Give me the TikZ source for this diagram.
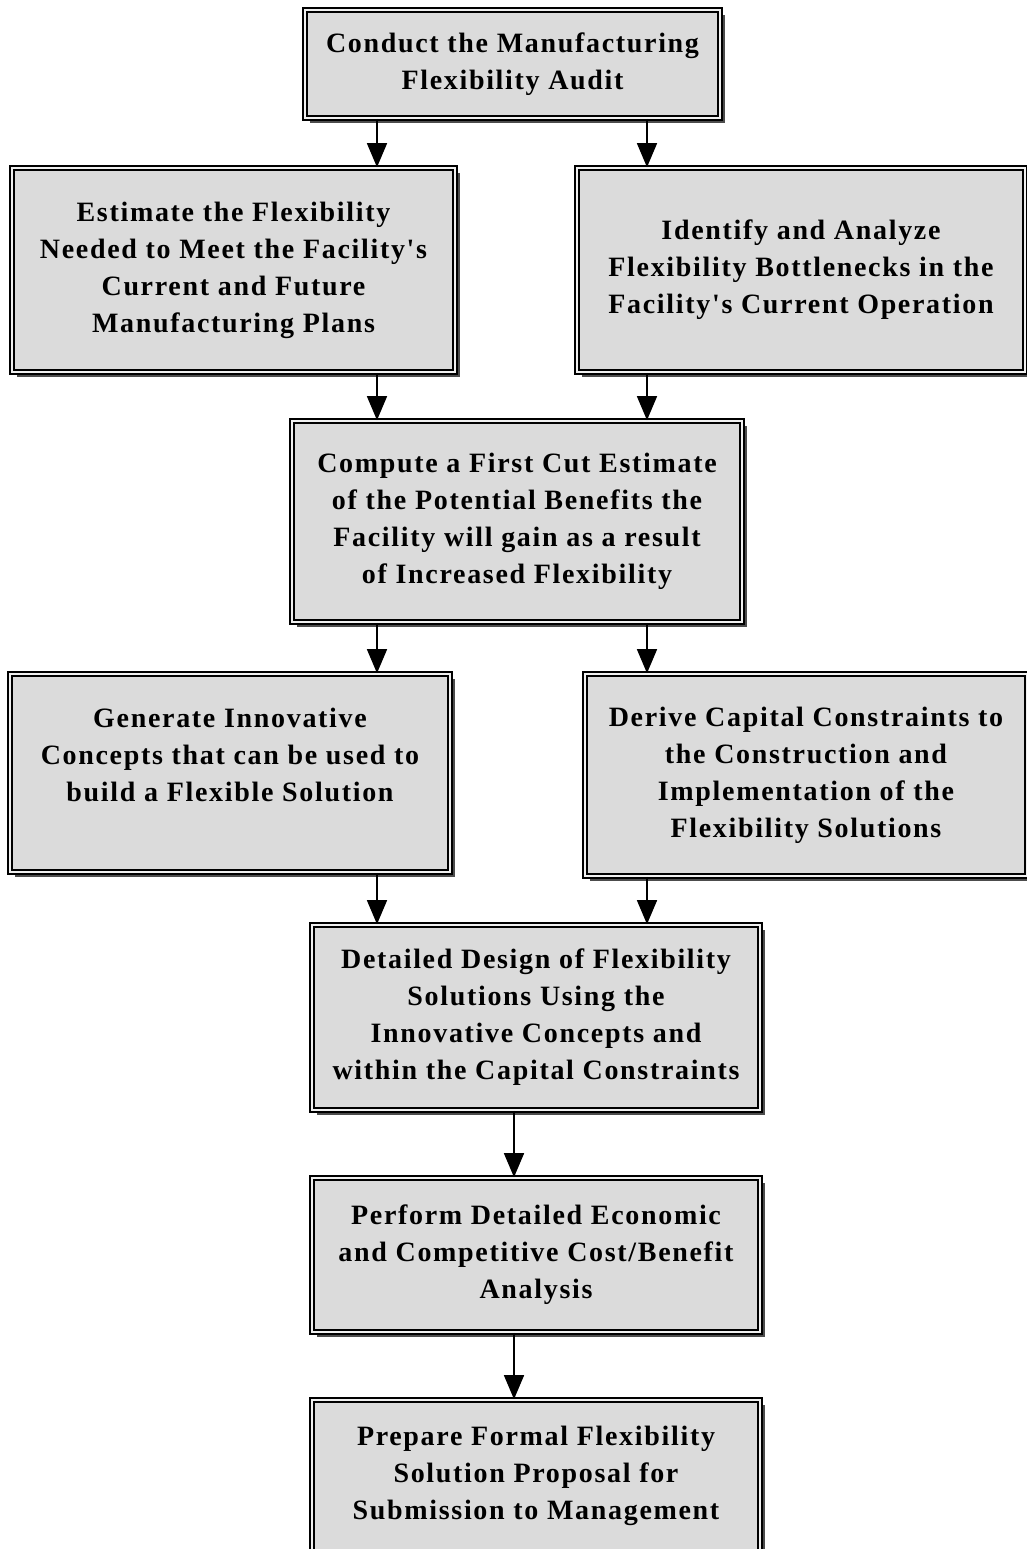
\documentclass[tikz,border=0pt]{standalone}
\usepackage{fontspec}
\newfontfamily\boxfont{Liberation Serif}[LetterSpace=6]
\usetikzlibrary{positioning, shadows, arrows.meta}
\tikzstyle{process} = [rectangle, draw=black, line width=0.8pt, double=black!6, double distance=1pt, fill=black!14, align=center, inner sep=0pt, font=\boxfont\bfseries\fontsize{14}{18.5}\selectfont, drop shadow={shadow xshift=2.4pt, shadow yshift=-2.4pt, fill=black!70, opacity=1}]
\tikzstyle{arrow} = [line width=0.7pt, -{Triangle[width=10pt,length=12pt]}]

\begin{document}
\begin{tikzpicture}[x=0.5pt, y=-0.5pt]

        \useasboundingbox (0,0) rectangle (1027,1549);

        % Colonnes des fleches
        \coordinate (lcol) at (377,0);
        \coordinate (rcol) at (647,0);
        \coordinate (mcol) at (514,0);

        % Audit
        \node (audit) [process, minimum width=207.5pt, minimum height=54pt] at (512.5,64) {Conduct the Manufacturing \\ Flexibility Audit};

        % Deux analyses
        \node (estimate) [process, minimum width=221.5pt, minimum height=102pt] at (233.5,270) {Estimate the Flexibility \\ Needed to Meet the Facility's \\ Current and Future \\ Manufacturing Plans};
        \node (bottleneck) [process, minimum width=224pt, minimum height=102pt] at (801,270) {Identify and Analyze \\ Flexibility Bottlenecks in the \\ Facility's Current Operation};

        \node (benefits) [process, minimum width=225pt, minimum height=100.5pt] at (517,521.5) {Compute a First Cut Estimate \\ of the Potential Benefits the \\ Facility will gain as a result \\ of Increased Flexibility};

        % Concepts et contraintes
        \node (concepts) [process, minimum width=220pt, minimum height=99pt] at (230,773) {Generate Innovative \\ Concepts that can be used to \\ build a Flexible Solution \\ \mbox{}};
        \node (capital) [process, minimum width=221pt, minimum height=101pt] at (806,775) {Derive Capital Constraints to \\ the Construction and \\ Implementation of the \\ Flexibility Solutions};

        % Conception et proposition
        \node (design) [process, minimum width=224pt, minimum height=92.5pt] at (536,1017.5) {Detailed Design of Flexibility \\ Solutions Using the \\ Innovative Concepts and \\ within the Capital Constraints};
        \node (economics) [process, minimum width=224pt, minimum height=77pt] at (536,1255) {Perform Detailed Economic \\ and Competitive Cost/Benefit \\ Analysis};
        \node (proposal) [process, minimum width=224pt, minimum height=76pt] at (536,1476) {Prepare Formal Flexibility \\ Solution Proposal for \\ Submission to Management};

        % Fleches
        \draw [arrow] (audit.south -| lcol) -- (estimate.north -| lcol);
        \draw [arrow] (audit.south -| rcol) -- (bottleneck.north -| rcol);
        \draw [arrow] (estimate.south -| lcol) -- (benefits.north -| lcol);
        \draw [arrow] (bottleneck.south -| rcol) -- (benefits.north -| rcol);
        \draw [arrow] (benefits.south -| lcol) -- (concepts.north -| lcol);
        \draw [arrow] (benefits.south -| rcol) -- (capital.north -| rcol);
        \draw [arrow] (concepts.south -| lcol) -- (design.north -| lcol);
        \draw [arrow] (capital.south -| rcol) -- (design.north -| rcol);
        \draw [arrow] (design.south -| mcol) -- (economics.north -| mcol);
        \draw [arrow] (economics.south -| mcol) -- (proposal.north -| mcol);

    \end{tikzpicture}
\end{document}
